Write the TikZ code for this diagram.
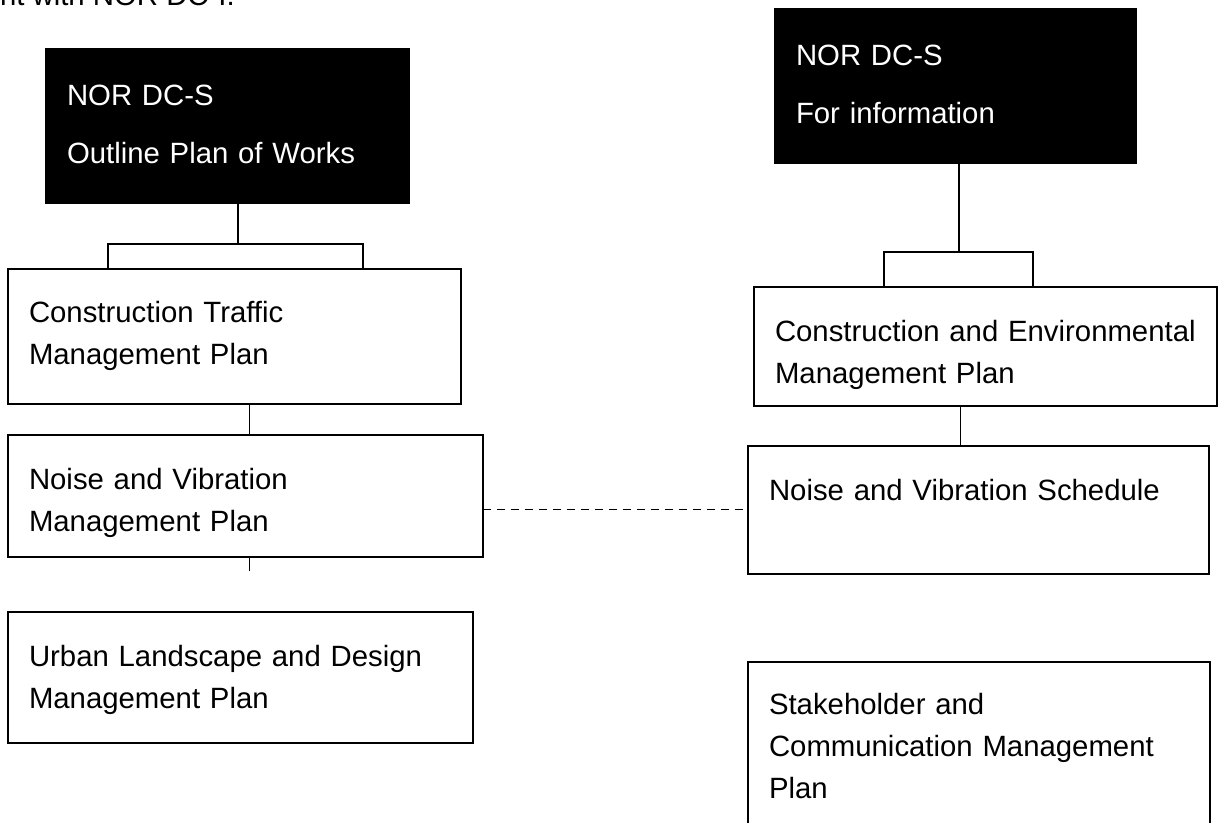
\documentclass[tikz,border=0pt]{standalone}
\usepackage{fontspec}
\setmainfont{Liberation Sans}
\usetikzlibrary{positioning}

\newcommand{\planfont}{\fontsize{22pt}{31.5pt}\selectfont}

\tikzset{
  plan/.style={draw, line width=1.4pt, anchor=north west, align=left, outer sep=0pt,
    inner xsep=15.75pt, inner ysep=0pt, text height=40.5pt, font=\planfont},
  head/.style={plan, fill=black, text=white, text height=42.75pt},
  stem/.style={line width=1.6pt},
  link/.style={line width=0.75pt},
  peer/.style={line width=1pt, dash pattern=on 6pt off 4.5pt}
}

\begin{document}
\begin{tikzpicture}[x=0.75pt,y=-0.75pt]
\useasboundingbox (0,0) rectangle (1227,823);
\clip (0,0) rectangle (1227,823);

\node[anchor=base east, inner sep=0pt, font=\planfont] (note) at (235,6) {ent with NOR DC-I.};

% left column
\node[head, text width=240.75pt, text depth=72.75pt] (srcA) at (46,49) {NOR DC-S\\[12pt]Outline Plan of Works};
\node[plan, text width=308.25pt, text depth=60.75pt] (ctmp) at (8,269) {Construction Traffic\\Management Plan};
\node[plan, text width=324.75pt, text depth=51pt] (nvmp) at (8,435) {Noise and Vibration\\Management Plan};
\node[plan, text width=317.25pt, text depth=57.75pt] (uldmp) at (8,612) {Urban Landscape and Design\\Management Plan};

% right column
\node[head, text width=239.25pt, text depth=72.75pt] (srcB) at (775,9) {NOR DC-S\\[12pt]For information};
\node[plan, text width=315.75pt, text depth=48pt, text height=41.25pt] (cemp) at (754,287) {Construction and Environmental\\Management Plan};
\node[plan, text width=314.25pt, text depth=55.5pt] (nvs) at (748,446) {Noise and Vibration Schedule};
\node[plan, text width=315pt, text depth=109.5pt, text height=39pt] (scmp) at (748,662) {Stakeholder and\\Communication Management\\Plan};

% forks under the black boxes
\coordinate (forkA) at (238,244);
\coordinate (armA1) at (108,244);
\coordinate (armA2) at (363,244);
\draw[stem] (srcA.south -| forkA) -- (forkA);
\draw[stem] (armA1 |- ctmp.north) -- (armA1) -- (armA2) -- (armA2 |- ctmp.north);

\coordinate (forkB) at (959,252);
\coordinate (armB1) at (884,252);
\coordinate (armB2) at (1033,252);
\draw[stem] (srcB.south -| forkB) -- (forkB);
\draw[stem] (armB1 |- cemp.north) -- (armB1) -- (armB2) -- (armB2 |- cemp.north);

% thin links
\coordinate (tapA) at ([xshift=10.9pt]ctmp.south);
\draw[link] (tapA) -- (tapA |- nvmp.north);
\draw[link] (tapA |- nvmp.south) -- ++(0,14);
\coordinate (tapB) at ([xshift=-18.4pt]cemp.south);
\draw[link] (tapB) -- (tapB |- nvs.north);

\coordinate (tie) at ([yshift=-10.1pt]nvmp.east);
\draw[peer] (tie) -- (tie -| nvs.west);
\end{tikzpicture}
\end{document}
